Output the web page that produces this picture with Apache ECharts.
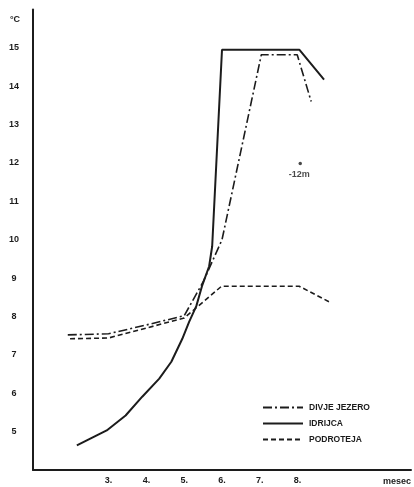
<!DOCTYPE html>
<html>
<head>
<meta charset="utf-8">
<script src="https://cdn.jsdelivr.net/npm/echarts@6/dist/echarts.min.js"></script>
<style>
  html, body { margin: 0; padding: 0; background: #fff; }
  #main { width: 414px; height: 487px; }
</style>
</head>
<body>
<div id="main"></div>
<script>
// podatki, odčitani s slike: [mesec, °C]
var xTickLabels = { 3: '3.', 4: '4.', 5: '5.', 6: '6.', 7: '7.', 8: '8.' };
var seriesNames = ['DIVJE JEZERO', 'IDRIJCA', 'PODROTEJA'];

var divjeJezero = [[1.92, 7.52], [3, 7.55], [4, 7.78], [5, 8.02], [5.5, 8.9], [6.0, 10.0],
	[7.04, 14.82], [7.99, 14.82], [8.36, 13.6]];
var idrijca = [[2.16, 4.64], [2.95, 5.03], [3.45, 5.42], [3.89, 5.91], [4.34, 6.38], [4.66, 6.82],
	[4.95, 7.42], [5.13, 7.86], [5.32, 8.27], [5.47, 8.79], [5.66, 9.31], [5.74, 9.83],
	[6.0, 14.95], [8.05, 14.95], [8.7, 14.17]];
var podroteja = [[1.98, 7.42], [3, 7.44], [4, 7.7], [5, 7.96], [5.99, 8.79], [7.07, 8.79],
	[8.04, 8.79], [8.84, 8.38]];
// meritev na globini 12 m
var depthPoint = [[8.07, 11.99]];
var depthLabel = '-12m';

var ink = '#1c1c1c';
var font = '"Liberation Sans", Arial, sans-serif';

var myChart = echarts.init(document.getElementById('main'));
var option = {
	backgroundColor: '#fff',
	animation: false,
	grid: {
		left: 33,
		right: 1,
		top: 9.5,
		bottom: 17
	},
	legend: {
		data: seriesNames,
		orient: 'vertical',
		left: 257,
		top: 398,
		itemWidth: 40,
		itemHeight: 10,
		itemGap: 7,
		itemStyle: { opacity: 0 },
		textStyle: {
			color: ink,
			fontSize: 8.5,
			fontWeight: 'bold',
			fontFamily: font,
			padding: [0, 0, 0, 1]
		}
	},
	xAxis: {
		type: 'value',
		min: 1,
		max: 11,
		interval: 1,
		name: 'mesec',
		nameLocation: 'end',
		nameGap: 0,
		nameTextStyle: {
			color: ink,
			fontSize: 9,
			fontWeight: 'bold',
			fontFamily: font,
			align: 'right',
			verticalAlign: 'top',
			padding: [7, 0, 0, 0]
		},
		splitLine: { show: false },
		axisTick: { show: false },
		axisLine: { lineStyle: { color: ink, width: 2 } },
		axisLabel: {
			color: ink,
			fontSize: 9,
			fontWeight: 'bold',
			fontFamily: font,
			margin: 6,
			formatter: function(v) {
				return xTickLabels[v] || '';
			}
		}
	},
	yAxis: {
		type: 'value',
		min: 4,
		max: 16,
		interval: 1,
		name: '°C',
		nameLocation: 'end',
		nameGap: -10,
		nameTextStyle: {
			color: ink,
			fontSize: 9,
			fontWeight: 'bold',
			fontFamily: font,
			align: 'right',
			verticalAlign: 'middle',
			padding: [0, 13, 0, 0]
		},
		splitLine: { show: false },
		axisTick: { show: false },
		axisLine: { lineStyle: { color: ink, width: 2 } },
		axisLabel: {
			color: ink,
			fontSize: 9,
			fontWeight: 'bold',
			fontFamily: font,
			align: 'center',
			margin: 19,
			formatter: function(v) {
				return (v >= 5 && v <= 15) ? String(v) : '';
			}
		}
	},
	series: [{
			name: 'DIVJE JEZERO',
			type: 'line',
			data: divjeJezero,
			symbol: 'none',
			lineStyle: { color: ink, width: 1.6, type: [9, 3, 2, 3] },
			itemStyle: { color: ink }
		},
		{
			name: 'IDRIJCA',
			type: 'line',
			data: idrijca,
			symbol: 'none',
			lineStyle: { color: ink, width: 2 },
			itemStyle: { color: ink }
		},
		{
			name: 'PODROTEJA',
			type: 'line',
			data: podroteja,
			symbol: 'none',
			lineStyle: { color: ink, width: 1.6, type: [5, 3] },
			itemStyle: { color: ink }
		},
		{
			name: 'depth',
			type: 'scatter',
			data: depthPoint,
			symbolSize: 3.5,
			itemStyle: { color: ink },
			label: {
				show: true,
				position: 'bottom',
				distance: 5,
				offset: [-1, 0],
				formatter: depthLabel,
				color: ink,
				fontSize: 9,
				fontWeight: 'bold',
				fontFamily: font
			}
		}
	]
};
myChart.setOption(option);
</script>
</body>
</html>
